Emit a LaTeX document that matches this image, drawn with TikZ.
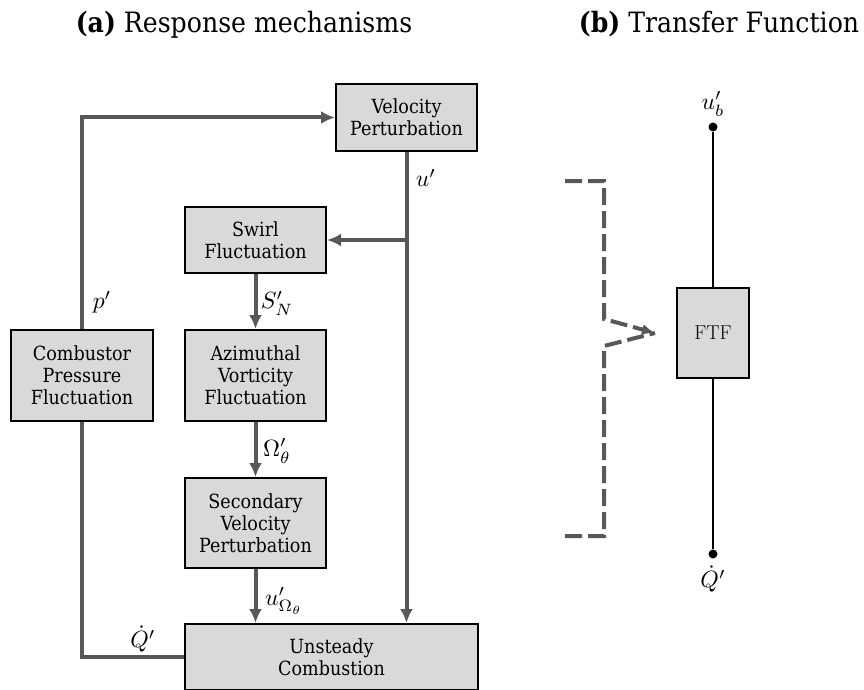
\documentclass[tikz,border=0pt]{standalone}
\usepackage{fontspec}
\setmainfont{DejaVu Serif Condensed}
\newfontfamily\lmfont{Latin Modern Roman}
\usetikzlibrary{arrows.meta}
\definecolor{boxgray}{RGB}{217,217,217}
\definecolor{linegray}{RGB}{88,88,88}
\newcommand{\bigmath}[1]{\scalebox{2.35}{$#1$}}
\tikzset{
  box/.style={draw=black, line width=2pt, fill=boxgray, align=center, inner sep=0pt,
    font=\fontsize{19.5}{22}\selectfont},
  conn/.style={draw=linegray, line width=4pt, -{Latex[length=14pt,width=13pt]}},
  plainconn/.style={draw=linegray, line width=4pt},
  lbl/.style={inner sep=0pt},
  ttl/.style={font=\fontsize{28}{32}\selectfont, anchor=base, inner sep=0pt},
  thin/.style={draw=black, line width=2pt},
  dotnode/.style={circle, fill=black, inner sep=0pt, minimum size=9pt},
  bracket/.style={draw=linegray, line width=4pt, dash pattern=on 17pt off 6pt},
}
\begin{document}
\begin{tikzpicture}[x=1pt,y=-1pt]
\useasboundingbox (0,0) rectangle (864,690);
% titles
\node[ttl] (ta) at (244,33) {\textbf{(a)} Response mechanisms};
\node[ttl] (tb) at (719,33) {\textbf{(b)} Transfer Function};
% boxes
\node[box, minimum width=141pt, minimum height=67pt] (vel) at (406.5,117.5) {Velocity\\Perturbation};
\node[box, minimum width=141pt, minimum height=66pt] (swirl) at (255.5,240) {Swirl\\Fluctuation};
\node[box, minimum width=141pt, minimum height=91pt] (azim) at (255.5,375.5) {Azimuthal\\Vorticity\\Fluctuation};
\node[box, minimum width=141pt, minimum height=90pt] (sec) at (255.5,523) {Secondary\\Velocity\\Perturbation};
\node[box, minimum width=142pt, minimum height=91pt] (comb) at (82,375.5) {Combustor\\Pressure\\Fluctuation};
\node[box, minimum width=293pt, minimum height=66pt] (unst) at (331.5,657) {Unsteady\\Combustion};
% connectors
\draw[conn] (vel.south) -- (vel.south |- unst.north);
\draw[conn] (vel.south |- swirl.east) -- (swirl.east);
\draw[conn] (swirl) -- (azim);
\draw[conn] (azim) -- (sec);
\draw[conn] (sec.south) -- (sec.south |- unst.north);
\draw[conn] (comb.north) |- (vel.west);
\draw[plainconn] (unst.west) -| (comb.south);
% labels
\node[lbl] (lu) at (426,178) {\bigmath{u'}};
\node[lbl] (lp) at (102,302) {\bigmath{p'}};
\node[lbl] (ls) at (277,303) {\bigmath{S'_N}};
\node[lbl] (lo) at (277,451) {\bigmath{\Omega'_\theta}};
\node[lbl] (luo) at (284,601) {\bigmath{u'_{\Omega_\theta}}};
\node[lbl] (lq) at (143,639) {\bigmath{\dot Q'}};
% right side
\node[dotnode] (dtop) at (713,127) {};
\node[dotnode] (dbot) at (713,554) {};
\node[box, minimum width=72pt, minimum height=90pt, font=\lmfont\fontsize{20}{22}\selectfont] (ftf) at (713,333) {FTF};
\draw[thin] (dtop) -- (ftf);
\draw[thin] (ftf) -- (dbot);
\node[lbl] (lub) at (713,104) {\bigmath{u'_b}};
\node[lbl] (lqb) at (713,579) {\bigmath{\dot Q'}};
% bracket
\coordinate (tip) at (655,333);
\draw[bracket, -{Latex[length=13pt,width=11pt]}] (565,181) -- (604,181) -- (604,319) -- (tip);
\draw[bracket] (565,536) -- (604,536) -- (604,346) -- (tip);
\end{tikzpicture}
\end{document}
